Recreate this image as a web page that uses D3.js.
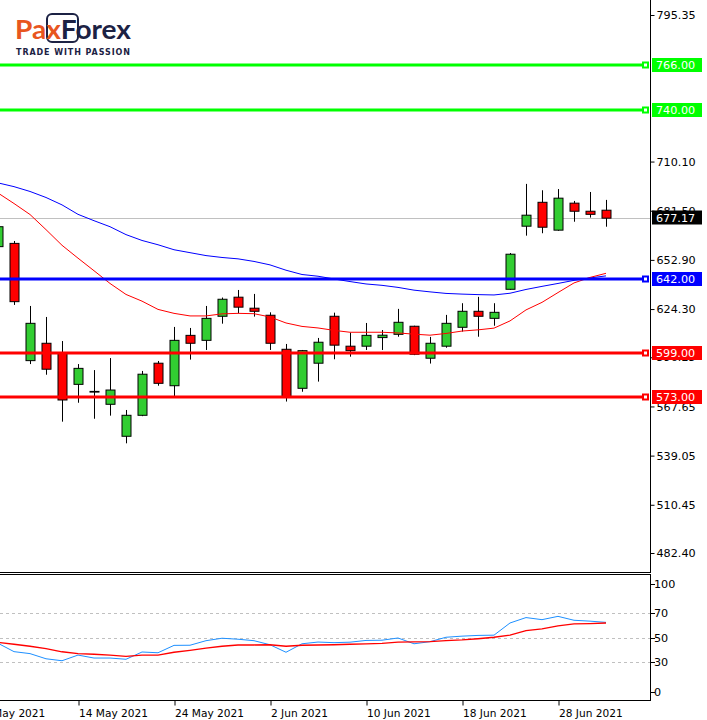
<!DOCTYPE html>
<html><head><meta charset="utf-8">
<script src="https://cdn.jsdelivr.net/npm/d3@7"></script>
<style>html,body{margin:0;padding:0;background:#fff;} svg{display:block;}</style>
</head><body>
<svg id="chart" width="707" height="720"></svg>
<script>
// ---------------- DATA ----------------
const dates = ["2021-05-07","2021-05-10","2021-05-11","2021-05-12","2021-05-13","2021-05-14",
  "2021-05-17","2021-05-18","2021-05-19","2021-05-20","2021-05-21","2021-05-24","2021-05-25",
  "2021-05-26","2021-05-27","2021-05-28","2021-06-01","2021-06-02","2021-06-03","2021-06-04",
  "2021-06-07","2021-06-08","2021-06-09","2021-06-10","2021-06-11","2021-06-14","2021-06-15",
  "2021-06-16","2021-06-17","2021-06-18","2021-06-21","2021-06-22","2021-06-23","2021-06-24",
  "2021-06-25","2021-06-28","2021-06-29","2021-06-30","2021-07-01"];
const openP  = [660.6,662.5,594.3,604.4,598.9,580.5,576.4,568.9,550.3,562.5,592.8,579.7,609.0,606.1,620.1,631.2,624.8,620.7,600.9,578.2,592.8,620.1,602.7,602.7,607.7,609.6,614.3,595.7,602.7,613.7,623.0,618.9,635.8,672.5,686.4,670.2,685.9,681.2,681.8];
const highP  = [676.0,663.9,626.1,619.7,605.7,592.3,588.8,595.8,565.6,588.3,594.1,613.9,613.3,626.1,631.0,635.4,633.1,622.4,604.0,600.5,607.5,622.2,610.6,616.2,612.1,624.4,614.6,608.1,620.9,627.7,631.4,627.7,656.9,697.1,693.4,694.1,687.2,692.4,687.8];
const lowP   = [655.0,626.7,592.3,586.1,558.8,569.8,560.5,562.3,546.2,562.0,579.7,573.7,594.9,600.5,615.8,621.9,619.9,600.5,570.5,576.2,582.1,595.1,596.6,600.5,600.5,608.2,597.5,592.6,601.8,611.2,608.2,614.6,635.5,667.0,668.4,669.8,675.1,677.5,672.2];
const closeP = [672.2,628.6,616.0,589.3,571.4,589.8,576.0,577.2,562.5,586.4,581.1,606.1,604.4,618.9,630.0,625.4,623.0,604.4,573.0,600.1,605.0,603.3,600.1,609.0,609.1,616.6,598.0,604.4,616.0,623.0,620.1,622.4,656.2,678.9,671.9,688.8,681.2,679.4,677.17];
const maFast = [691.8,685.7,679.3,670.5,661.4,653.9,646.6,639.2,632.8,628.9,624.1,621.8,620.3,620.3,621.5,621.8,621.6,619.7,616.2,614.2,613.3,611.9,610.8,610.8,610.8,610.4,609.7,609.1,610.1,611.5,612.2,613.2,617.4,623.8,628.2,633.9,639.5,642.7,645.1];
const maSlow = [697.7,695.5,692.7,689.2,684.9,679.4,675.7,672.2,667.6,664.2,661.7,658.8,657.1,655.4,654.3,653.5,652.0,650.0,646.9,644.4,643.4,641.8,640.3,638.9,638.1,636.9,635.3,634.3,633.4,633.0,632.7,632.5,633.5,635.7,637.5,639.2,641.0,642.4,643.6];
const oscMain   = [45.3,38.5,36.9,32.7,31.1,35.7,33.3,33.3,32.3,38.2,37.6,43.6,43.7,47.4,49.4,48.6,47.4,44.1,38.0,44.9,46.3,45.8,46.2,47.6,47.8,49.6,44.9,46.6,50.2,51.1,51.7,51.9,61.8,66.2,64.5,67.2,64.0,63.3,62.3];
const oscSignal = [46.0,44.5,42.9,40.9,38.4,36.9,36.4,35.7,34.7,35.7,35.7,38.0,39.6,41.3,42.9,43.9,43.9,44.1,42.9,43.7,43.9,44.1,44.5,44.8,45.3,46.3,46.4,46.6,47.4,48.0,49.0,50.2,51.9,55.6,57.0,59.4,61.0,61.3,61.8];
const levels = [766, 740, 642, 599, 573];
const levelColors = ["#00ff00","#00ff00","#0000ff","#ff0000","#ff0000"];
const lastPrice = 677.17;
const priceTicks = [795.35, 710.10, 681.50, 652.90, 624.30, 596.25, 567.65, 539.05, 510.45, 482.40];
const oscTicks = [100, 70, 50, 30, 0];
const oscGrid = [70, 50, 30];
const dateTickIndex = [-1, 5, 11, 17, 23, 29, 35];
const dateTickLabels = ["6 May 2021","14 May 2021","24 May 2021","2 Jun 2021","10 Jun 2021","18 Jun 2021","28 Jun 2021"];

// ---------------- LAYOUT ----------------
const W = 707, H = 720;
const plotR = 650;
const mainBottom = 572, oscTop = 574, oscBottom = 700;
const FONT = "'DejaVu Sans', Verdana, sans-serif";

const svg = d3.select("#chart");
svg.append("rect").attr("width", W).attr("height", H).attr("fill", "#fff");

const x = d3.scaleLinear().domain([0, dates.length - 1]).range([-2, 606]);
const y = d3.scaleLinear().domain([482.40, 795.35]).range([553, 15]);
const yo = d3.scaleLinear().domain([0, 100]).range([699, 576]);

const defs = svg.append("defs");
defs.append("clipPath").attr("id", "clipMain").append("rect")
  .attr("x", 0).attr("y", 0).attr("width", plotR).attr("height", mainBottom);
defs.append("clipPath").attr("id", "clipOsc").append("rect")
  .attr("x", 0).attr("y", oscTop + 1).attr("width", plotR).attr("height", oscBottom - oscTop - 1);

const main = svg.append("g").attr("clip-path", "url(#clipMain)");

// current price line
main.append("line").attr("x1", 0).attr("x2", plotR)
  .attr("y1", Math.round(y(lastPrice)) + 0.5).attr("y2", Math.round(y(lastPrice)) + 0.5)
  .attr("stroke", "#c0c0c0").attr("stroke-width", 1);

// candles
const idx = d3.range(dates.length);
const cg = main.append("g");
cg.selectAll("line.wick").data(idx).join("line").attr("class", "wick")
  .attr("x1", i => Math.round(x(i)) + 0.5).attr("x2", i => Math.round(x(i)) + 0.5)
  .attr("y1", i => y(highP[i])).attr("y2", i => y(lowP[i]))
  .attr("stroke", "#000").attr("stroke-width", 1);
cg.selectAll("rect.body").data(idx).join("rect").attr("class", "body")
  .attr("x", i => Math.round(x(i)) - 4)
  .attr("width", 9)
  .attr("y", i => y(Math.max(openP[i], closeP[i])))
  .attr("height", i => Math.max(0.5, Math.abs(y(openP[i]) - y(closeP[i]))))
  .attr("fill", i => closeP[i] >= openP[i] ? "#32cd32" : "#ff0000")
  .attr("stroke", "#000").attr("stroke-width", 1);

// moving averages
const lineMain = arr => d3.line().x((d, i) => x(i)).y(d => y(d))(arr);
main.append("path").attr("d", lineMain(maSlow)).attr("fill", "none").attr("stroke", "#0000ff").attr("stroke-width", 1);
main.append("path").attr("d", lineMain(maFast)).attr("fill", "none").attr("stroke", "#ff0000").attr("stroke-width", 1);

// horizontal levels
levels.forEach((lv, k) => {
  const yy = Math.round(y(lv));
  main.append("line").attr("x1", 0).attr("x2", 644).attr("y1", yy).attr("y2", yy)
    .attr("stroke", levelColors[k]).attr("stroke-width", 3);
  main.append("rect").attr("x", 643).attr("y", yy - 2.5).attr("width", 5).attr("height", 5)
    .attr("fill", "#fff").attr("stroke", levelColors[k]).attr("stroke-width", 2);
});

// main frame: right axis line & bottom
svg.append("line").attr("x1", plotR + 0.5).attr("x2", plotR + 0.5).attr("y1", 0).attr("y2", mainBottom + 0.5)
  .attr("stroke", "#000");
svg.append("line").attr("x1", 0).attr("x2", plotR + 1).attr("y1", mainBottom + 0.5).attr("y2", mainBottom + 0.5)
  .attr("stroke", "#000");

// price axis
const pa = svg.append("g").attr("transform", `translate(${plotR + 0.5},0)`)
  .call(d3.axisRight(y).tickValues(priceTicks).tickSize(4).tickPadding(2).tickFormat(d3.format(".2f")));
pa.select(".domain").remove();
pa.selectAll(".tick line").attr("stroke", "#000");
pa.selectAll(".tick text").attr("font-family", FONT).attr("font-size", 11.2).attr("fill", "#000");

// level labels
levels.forEach((lv, k) => {
  const yy = Math.round(y(lv));
  svg.append("rect").attr("x", 652).attr("y", yy - 7).attr("width", 50).attr("height", 14).attr("fill", levelColors[k]);
  svg.append("text").attr("x", 656).attr("y", yy).attr("dy", "0.36em")
    .attr("font-family", FONT).attr("font-size", 11.2).attr("fill", "#fff").text(d3.format(".2f")(lv));
});
{
  const yy = Math.round(y(lastPrice)) - 0.5;
  svg.append("rect").attr("x", 652).attr("y", yy - 7).attr("width", 50).attr("height", 14).attr("fill", "#000");
  svg.append("text").attr("x", 656).attr("y", yy).attr("dy", "0.36em")
    .attr("font-family", FONT).attr("font-size", 11.2).attr("fill", "#fff").text(d3.format(".2f")(lastPrice));
}

// ---------------- OSCILLATOR PANEL ----------------
const og = svg.append("g").attr("clip-path", "url(#clipOsc)");
og.selectAll("line.grid").data(oscGrid).join("line").attr("class", "grid")
  .attr("x1", 0).attr("x2", plotR).attr("y1", d => Math.round(yo(d)) + 0.5).attr("y2", d => Math.round(yo(d)) + 0.5)
  .attr("stroke", "#c0c0c0").attr("stroke-dasharray", "3,3");
const lineOsc = arr => d3.line().x((d, i) => x(i)).y(d => yo(d))(arr);
og.append("path").attr("d", lineOsc(oscMain)).attr("fill", "none").attr("stroke", "#1e90ff").attr("stroke-width", 1);
og.append("path").attr("d", lineOsc(oscSignal)).attr("fill", "none").attr("stroke", "#ff0000").attr("stroke-width", 1.3);

svg.append("rect").attr("x", -1).attr("y", oscTop + 0.5).attr("width", plotR + 1.5).attr("height", oscBottom - oscTop)
  .attr("fill", "none").attr("stroke", "#000");

const oscLabelY = v => Math.min(692, Math.max(583.5, yo(v)));
const oa = svg.append("g");
oa.selectAll("line").data(oscTicks).join("line")
  .attr("x1", plotR + 1).attr("x2", plotR + 5)
  .attr("y1", d => Math.round(oscLabelY(d)) + 0.5).attr("y2", d => Math.round(oscLabelY(d)) + 0.5)
  .attr("stroke", "#000");
oa.selectAll("text").data(oscTicks).join("text")
  .attr("x", 654).attr("y", d => oscLabelY(d)).attr("dy", "0.36em")
  .attr("font-family", FONT).attr("font-size", 11.2).attr("fill", "#000").text(d => d);

// date axis
const da = svg.append("g").attr("transform", `translate(0.5,${oscBottom + 0.5})`)
  .call(d3.axisBottom(x).tickValues(dateTickIndex).tickSize(5).tickFormat((d, i) => dateTickLabels[i]));
da.select(".domain").remove();
da.selectAll(".tick line").attr("stroke", "#000");
da.selectAll(".tick text").attr("text-anchor", "start").attr("y", 16).attr("dy", null).attr("x", 0)
  .attr("font-family", FONT).attr("font-size", 10.6).attr("fill", "#000");

// ---------------- LOGO ----------------
const logo = svg.append("g");
logo.append("rect").attr("x", 47).attr("y", 14).attr("width", 31).attr("height", 28).attr("rx", 5)
  .attr("fill", "none").attr("stroke", "#1c2244").attr("stroke-width", 2);
const lt = logo.append("text").attr("x", 15).attr("y", 39)
  .attr("font-family", "Lato, 'Open Sans', sans-serif").attr("font-weight", 700).attr("font-size", 27)
  .attr("textLength", 116).attr("lengthAdjust", "spacingAndGlyphs");
lt.append("tspan").attr("fill", "#e8561e").text("Pax");
lt.append("tspan").attr("fill", "#1c2244").text("Forex");
logo.append("text").attr("x", 16).attr("y", 55)
  .attr("font-family", "'DejaVu Sans', sans-serif").attr("font-weight", 700).attr("font-size", 8)
  .attr("textLength", 114).attr("lengthAdjust", "spacing").attr("fill", "#1c2244").text("TRADE WITH PASSION");
</script>
</body></html>
